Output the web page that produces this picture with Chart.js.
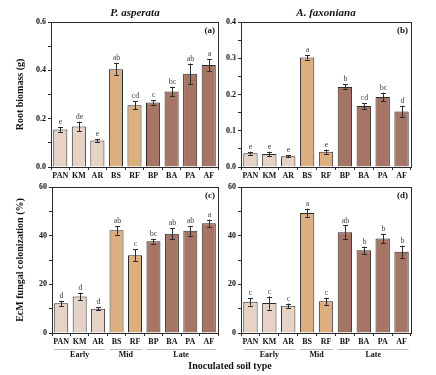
<!DOCTYPE html>
<html>
<head>
<meta charset="utf-8">
<script src="https://cdn.jsdelivr.net/npm/chart.js@4/dist/chart.umd.min.js"></script>
<style>
  html, body { margin: 0; padding: 0; background: #fff; }
  #wrap { position: relative; width: 436px; height: 375px; overflow: hidden; }
  canvas { position: absolute; }
  .lbl { position: absolute; font-family: "Liberation Serif", "DejaVu Serif", serif; font-weight: bold; color: #111; white-space: nowrap; transform: translate(-50%, -50%); }
  .sp { font-style: italic; font-size: 11px; }
</style>
</head>
<body>
<div id="wrap">
  <canvas id="cA" width="222" height="190" style="left:0;top:0"></canvas>
  <canvas id="cB" width="194" height="190" style="left:222px;top:0"></canvas>
  <canvas id="cC" width="222" height="195" style="left:0;top:180px"></canvas>
  <canvas id="cD" width="194" height="195" style="left:222px;top:180px"></canvas>
  <div class="lbl sp" style="left:135px;top:12px">P. asperata</div>
  <div class="lbl sp" style="left:326px;top:12px">A. faxoniana</div>
  <div class="lbl" style="left:230px;top:365px;font-size:10px">Inoculated soil type</div>
</div>
<script>
'use strict';

/* --------------------------------------------------------------------------
   DATA
   -------------------------------------------------------------------------- */
const soilTypes = ['PAN', 'KM', 'AR', 'BS', 'RF', 'BP', 'BA', 'PA', 'AF'];
const stages = ['Early', 'Early', 'Early', 'Mid', 'Mid', 'Late', 'Late', 'Late', 'Late'];
const stageNames = ['Early', 'Mid', 'Late'];

const rootAsperata = [0.155, 0.168, 0.110, 0.404, 0.256, 0.267, 0.312, 0.386, 0.422];
const rootAsperataErr = [0.010, 0.020, 0.006, 0.025, 0.016, 0.010, 0.020, 0.042, 0.024];
const rootAsperataSig = ['e', 'de', 'e', 'ab', 'cd', 'c', 'bc', 'ab', 'a'];

const rootFaxoniana = [0.038, 0.036, 0.030, 0.302, 0.042, 0.221, 0.168, 0.193, 0.153];
const rootFaxonianaErr = [0.004, 0.006, 0.003, 0.006, 0.006, 0.007, 0.008, 0.012, 0.016];
const rootFaxonianaSig = ['e', 'e', 'e', 'a', 'e', 'b', 'cd', 'bc', 'd'];

const ecmAsperata = [12.2, 15.0, 10.0, 42.2, 32.0, 37.7, 40.8, 42.0, 45.1];
const ecmAsperataErr = [1.1, 1.6, 0.6, 1.8, 2.4, 1.0, 2.2, 2.0, 1.5];
const ecmAsperataSig = ['d', 'd', 'd', 'ab', 'c', 'bc', 'ab', 'ab', 'a'];

const ecmFaxoniana = [12.8, 12.3, 11.2, 49.3, 13.0, 41.4, 34.0, 38.8, 33.4];
const ecmFaxonianaErr = [1.5, 2.7, 0.9, 1.8, 1.5, 2.8, 1.5, 2.0, 2.5];
const ecmFaxonianaSig = ['c', 'c', 'c', 'a', 'c', 'ab', 'b', 'b', 'b'];

/* --------------------------------------------------------------------------
   STYLE
   -------------------------------------------------------------------------- */
const SERIF = '"Liberation Serif", "DejaVu Serif", serif';
const INK = '#2b2b2b';
const STAGE_COLORS = { Early: '#e6d3c6', Mid: '#dcae80', Late: '#a77566' };

/* --------------------------------------------------------------------------
   PLUGINS
   -------------------------------------------------------------------------- */
const framePlugin = {
    id: 'frame',
    afterDraw(chart) {
        const { ctx, chartArea: a } = chart;
        ctx.save();
        ctx.strokeStyle = INK;
        ctx.lineWidth = 1;
        ctx.strokeRect(Math.round(a.left) + 0.5, Math.round(a.top) + 0.5,
            Math.round(a.right - a.left), Math.round(a.bottom - a.top));
        const o = chart.options.plugins.frame;
        ctx.fillStyle = '#111';
        ctx.font = 'bold 9px ' + SERIF;
        ctx.textAlign = 'right';
        ctx.textBaseline = 'top';
        ctx.fillText(o.tag, a.right - 3, a.top + 4);
        ctx.restore();
    },
};

const errorBarPlugin = {
    id: 'errorBars',
    afterDatasetsDraw(chart) {
        const o = chart.options.plugins.errorBars;
        const { ctx } = chart;
        const meta = chart.getDatasetMeta(0);
        const ys = chart.scales.y;
        const vals = chart.data.datasets[0].data;
        ctx.save();
        ctx.strokeStyle = INK;
        ctx.lineWidth = 1;
        meta.data.forEach((bar, i) => {
            const x = Math.round(bar.x) + 0.5;
            const yHi = ys.getPixelForValue(vals[i] + o.err[i]);
            const yLo = ys.getPixelForValue(vals[i] - o.err[i]);
            ctx.beginPath();
            ctx.moveTo(x, yHi); ctx.lineTo(x, yLo);
            ctx.moveTo(x - 2.5, Math.round(yHi) + 0.5); ctx.lineTo(x + 2.5, Math.round(yHi) + 0.5);
            ctx.moveTo(x - 2.5, Math.round(yLo) + 0.5); ctx.lineTo(x + 2.5, Math.round(yLo) + 0.5);
            ctx.stroke();
            ctx.fillStyle = '#444';
            ctx.font = '8px ' + SERIF;
            ctx.textAlign = 'center';
            ctx.textBaseline = 'bottom';
            ctx.fillText(o.sig[i], x, yHi - 1);
        });
        ctx.restore();
    },
};

const stagePlugin = {
    id: 'stages',
    afterDraw(chart) {
        if (!chart.options.plugins.stages.show) return;
        const { ctx } = chart;
        const xs = chart.scales.x;
        const y0 = chart.chartArea.bottom;
        ctx.save();
        stageNames.forEach(name => {
            const first = stages.indexOf(name);
            const last = stages.lastIndexOf(name);
            const x1 = xs.getPixelForValue(first) - 7;
            const x2 = xs.getPixelForValue(last) + 7;
            ctx.strokeStyle = '#b8b8b8';
            ctx.lineWidth = 1;
            ctx.beginPath();
            ctx.moveTo(x1, y0 + 16.5); ctx.lineTo(x2, y0 + 16.5);
            ctx.stroke();
            ctx.fillStyle = '#111';
            ctx.font = 'bold 8px ' + SERIF;
            ctx.textAlign = 'center';
            ctx.textBaseline = 'top';
            ctx.fillText(name, (x1 + x2) / 2, y0 + 18);
        });
        ctx.restore();
    },
};

/* --------------------------------------------------------------------------
   PANEL FACTORY
   -------------------------------------------------------------------------- */
function renderPanel(canvasId, cfg) {
    const ctx = document.getElementById(canvasId).getContext('2d');
    return new Chart(ctx, {
        type: 'bar',
        data: {
            labels: soilTypes,
            datasets: [{
                data: cfg.values,
                backgroundColor: stages.map(s => STAGE_COLORS[s]),
                borderColor: INK,
                borderWidth: 1,
                barPercentage: 0.76,
                categoryPercentage: 1,
            }],
        },
        options: {
            responsive: false,
            animation: false,
            layout: { padding: cfg.padding },
            plugins: {
                legend: { display: false },
                tooltip: { enabled: false },
                frame: { tag: cfg.tag },
                errorBars: { err: cfg.err, sig: cfg.sig },
                stages: { show: cfg.stages },
            },
            scales: {
                x: {
                    grid: { drawOnChartArea: false, tickLength: 3, color: INK },
                    border: { color: INK },
                    ticks: { color: '#111', font: { family: SERIF, size: 8, weight: 'bold' }, padding: 1, maxRotation: 0, autoSkip: false },
                    afterFit: s => { s.height = cfg.xHeight; },
                },
                y: {
                    min: 0,
                    max: cfg.max,
                    grid: { drawOnChartArea: false, tickLength: 3, color: INK },
                    border: { color: INK },
                    ticks: {
                        stepSize: cfg.step,
                        color: '#111',
                        padding: 2,
                        font: { family: SERIF, size: 8, weight: 'bold' },
                        callback: cfg.tickFmt,
                    },
                    title: {
                        display: !!cfg.yTitle,
                        text: cfg.yTitle || '',
                        color: '#111',
                        font: { family: SERIF, size: 10, weight: 'bold' },
                        padding: { top: 14, bottom: 0 },
                    },
                    afterFit: s => { s.width = cfg.yWidth; },
                },
            },
        },
        plugins: [framePlugin, errorBarPlugin, stagePlugin],
    });
}

const fmtRootA = v => (Math.round(v * 100) % 20 === 0 ? v.toFixed(1) : '');
const fmtRootB = v => (Math.round(v * 100) % 10 === 0 ? v.toFixed(1) : '');
const fmtEcm = v => (Math.round(v) % 20 === 0 ? String(Math.round(v)) : '');

renderPanel('cA', {
    values: rootAsperata, err: rootAsperataErr, sig: rootAsperataSig, tag: '(a)',
    max: 0.6, step: 0.1, tickFmt: fmtRootA, yTitle: 'Root biomass (g)',
    yWidth: 51, xHeight: 23, padding: { top: 22, right: 4, left: 0, bottom: 0 }, stages: false,
});
renderPanel('cB', {
    values: rootFaxoniana, err: rootFaxonianaErr, sig: rootFaxonianaSig, tag: '(b)',
    max: 0.4, step: 0.05, tickFmt: fmtRootB, yTitle: null,
    yWidth: 19, xHeight: 23, padding: { top: 22, right: 5, left: 0, bottom: 0 }, stages: false,
});
renderPanel('cC', {
    values: ecmAsperata, err: ecmAsperataErr, sig: ecmAsperataSig, tag: '(c)',
    max: 60, step: 10, tickFmt: fmtEcm, yTitle: 'EcM fungal colonization (%)',
    yWidth: 52, xHeight: 42, padding: { top: 7, right: 4, left: 0, bottom: 0 }, stages: true,
});
renderPanel('cD', {
    values: ecmFaxoniana, err: ecmFaxonianaErr, sig: ecmFaxonianaSig, tag: '(d)',
    max: 60, step: 10, tickFmt: fmtEcm, yTitle: null,
    yWidth: 19, xHeight: 42, padding: { top: 7, right: 5, left: 0, bottom: 0 }, stages: true,
});
</script>
</body>
</html>
